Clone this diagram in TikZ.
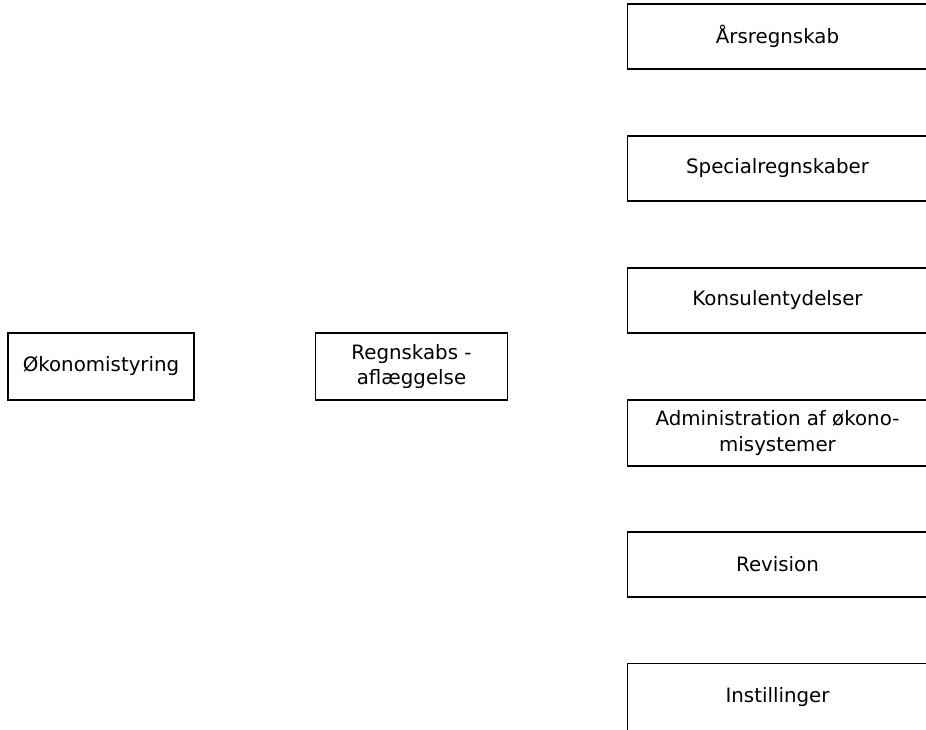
\documentclass[tikz,border=0pt]{standalone}
\usepackage{fontspec}
\setmainfont{DejaVu Sans}
\begin{document}
\begin{tikzpicture}[x=1pt,y=-1pt,
  box/.style={draw=black,line width=1.5pt,minimum height=67pt,inner sep=0pt,
    font=\fontsize{19.8}{25.5}\selectfont,align=center,text=black},
  leftbox/.style={box,minimum width=186pt},
  rightbox/.style={box,minimum width=306pt}]
\useasboundingbox (0,0) rectangle (926,729);
\clip (0,0) rectangle (926,729);
\node[leftbox] (oek) at (101,366.5) {Økonomistyring};
\node[leftbox,minimum width=192pt] (regn) at (411.5,366.5) {Regnskabs -\\aflæggelse};
% the right-hand column runs past the right margin
\node[rightbox,minimum height=65pt] (aars) at (780.5,36.5) {\hspace*{-6pt}Årsregnskab};
\node[rightbox,minimum height=65pt] (spec) at (780.5,168.5) {\hspace*{-6pt}Specialregnskaber};
\node[rightbox,minimum height=65pt] (kons) at (780.5,300.5) {\hspace*{-6pt}Konsulentydelser};
\node[rightbox,minimum height=66pt] (adm) at (780.5,433) {Administration af øko\-no-\hspace*{6pt}\\misystemer\hspace*{6pt}};
\node[rightbox,minimum height=65pt] (rev) at (780.5,564.5) {\hspace*{-6pt}Revision};
\node[rightbox,minimum height=67pt] (inst) at (780.5,697) {\hspace*{-6pt}Instillinger};
\end{tikzpicture}
\end{document}
